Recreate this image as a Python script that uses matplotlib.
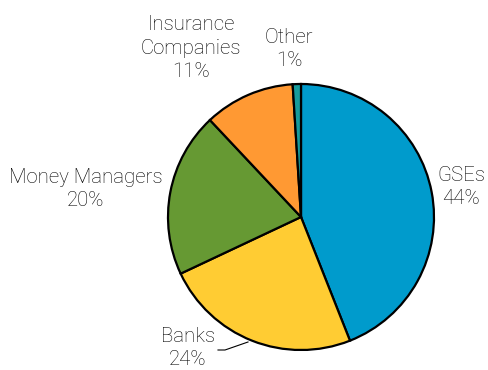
import matplotlib.pyplot as plt

labels = ["GSEs", "Banks", "Money Managers", "Insurance\nCompanies", "Other"]
shares = [44, 24, 20, 11, 1]
colors = ["#009bcc", "#ffcc33", "#669933", "#ff9933", "#169c9c"]

# label anchor positions in pixel coords (y measured from top)
label_pos = [(461, 187), (188, 348), (86, 189), (191, 48), (289, 49)]

W, H = 488, 370
fig = plt.figure(figsize=(W / 100, H / 100), dpi=100)
ax = fig.add_axes([0, 0, 1, 1])

cx, cy, r = 301, H - 217, 133
ax.pie(shares, colors=colors, startangle=90, counterclock=False,
       center=(cx, cy), radius=r,
       wedgeprops=dict(edgecolor="black", linewidth=1.6))

ax.set_xlim(0, W)
ax.set_ylim(0, H)
ax.set_aspect("auto")
ax.axis("off")

for name, val, (px, py) in zip(labels, shares, label_pos):
    ax.text(px, H - py, f"{name}\n{val}%", ha="center", va="center",
            fontsize=14.7, family="Roboto", fontweight="light",
            color="#000000", linespacing=1.32)

# leader line for Banks
ax.plot([218, 225, 248], [H - 350, H - 350, H - 342], color="black", lw=0.8)

fig.savefig("out.png", dpi=100)
